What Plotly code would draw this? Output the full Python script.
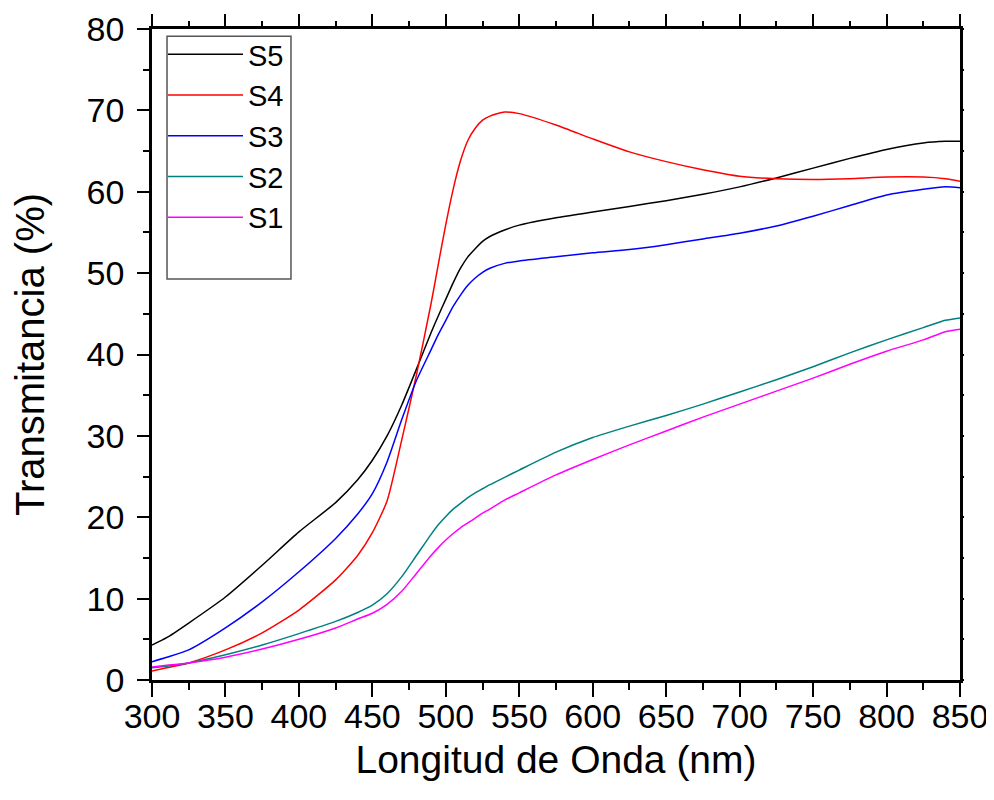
import plotly.graph_objects as go

# Wavelength (nm)
wavelength = [300, 310, 325, 350, 375, 400, 425, 440, 450, 460, 470, 480, 490, 495, 500, 505, 510,
              515, 520, 525, 530, 540, 550, 575, 600, 625, 650, 675, 700, 725, 750, 775, 800, 825,
              840, 850]

# Transmittance (%) per sample
s5 = [4.3, 5.2, 7.0, 10.2, 14.1, 18.2, 21.8, 24.6, 27.0, 30.0, 33.8, 38.2, 42.7, 44.8, 46.8, 48.8, 50.6,
      52.0, 53.0, 53.9, 54.5, 55.3, 55.9, 56.8, 57.5, 58.2, 58.9, 59.7, 60.6, 61.7, 62.9, 64.1, 65.2, 66.0,
      66.2, 66.2]
s4 = [1.1, 1.5, 2.1, 3.7, 5.8, 8.6, 12.3, 15.3, 18.1, 22.0, 29.5, 37.5, 46.3, 51.2, 56.0, 60.3, 63.8,
      66.3, 67.8, 68.8, 69.3, 69.8, 69.6, 68.2, 66.5, 64.9, 63.7, 62.7, 61.9, 61.6, 61.5, 61.6, 61.8, 61.8,
      61.6, 61.3]
s3 = [2.25, 2.8, 3.7, 6.4, 9.6, 13.3, 17.4, 20.4, 22.9, 26.8, 32.0, 36.8, 40.6, 42.5, 44.2, 45.9, 47.3,
      48.5, 49.4, 50.1, 50.6, 51.2, 51.5, 52.0, 52.5, 52.9, 53.5, 54.2, 54.9, 55.8, 57.0, 58.3, 59.6, 60.3,
      60.6, 60.5]
s2 = [1.5, 1.7, 2.1, 3.1, 4.3, 5.7, 7.2, 8.3, 9.2, 10.6, 12.7, 15.3, 17.9, 19.1, 20.1, 21.0, 21.7,
      22.4, 23.0, 23.5, 24.0, 24.9, 25.8, 28.0, 29.8, 31.2, 32.5, 33.9, 35.4, 36.9, 38.5, 40.2, 41.8, 43.3,
      44.2, 44.5]
s1 = [1.6, 1.8, 2.1, 2.8, 3.8, 5.0, 6.4, 7.5, 8.2, 9.3, 10.9, 13.1, 15.3, 16.3, 17.2, 18.0, 18.7,
      19.3, 19.9, 20.5, 21.0, 22.1, 23.0, 25.2, 27.1, 28.9, 30.6, 32.3, 33.9, 35.5, 37.1, 38.8, 40.4, 41.8,
      42.8, 43.1]

series_names = ["S5", "S4", "S3", "S2", "S1"]
series_values = [s5, s4, s3, s2, s1]
series_colors = ["#000000", "#ff0000", "#0000ff", "#008080", "#ff00ff"]

x_ticks = [300, 350, 400, 450, 500, 550, 600, 650, 700, 750, 800, 850]
y_ticks = [0, 10, 20, 30, 40, 50, 60, 70, 80]

FONT = "Liberation Sans, Arial, sans-serif"

fig = go.Figure()
for name, vals, col in zip(series_names, series_values, series_colors):
    fig.add_trace(go.Scatter(x=wavelength, y=vals, mode="lines", name=name,
                             line=dict(color=col, width=1.5, shape="spline", smoothing=0.6)))

# helper trace for top/right tick axes
fig.add_trace(go.Scatter(x=[300, 850], y=[0, 80], xaxis="x2", yaxis="y2", mode="markers",
                         marker=dict(opacity=0), showlegend=False, hoverinfo="skip"))

axis_common = dict(showgrid=False, zeroline=False, linecolor="black", linewidth=2.8,
                   tickcolor="black", tickwidth=2, automargin=False,
                   tickfont=dict(family=FONT, size=34, color="black"))

fig.update_layout(
    width=986, height=792,
    margin=dict(l=144, r=34, t=21, b=120),
    plot_bgcolor="white", paper_bgcolor="white",
    font=dict(family=FONT, color="black"),
    xaxis=dict(range=[300, 850], tickvals=x_ticks, ticks="outside", ticklen=14, mirror=True,
               ticklabelstandoff=-10,
               minor=dict(dtick=25, ticks="outside", ticklen=7, tickwidth=2, tickcolor="black"),
               title=dict(text="Longitud de Onda (nm)", font=dict(family=FONT, size=39), standoff=12),
               **axis_common),
    yaxis=dict(range=[0, 80], tickvals=y_ticks, ticks="outside", ticklen=12, mirror=True,
               ticklabelstandoff=6,
               minor=dict(dtick=5, ticks="outside", ticklen=6, tickwidth=2, tickcolor="black"),
               title=dict(text="Transmitancia (%)", font=dict(family=FONT, size=40), standoff=30),
               **axis_common),
    xaxis2=dict(range=[300, 850], overlaying="x", side="top", anchor="y2", showgrid=False,
                zeroline=False, showline=False, showticklabels=False, tickvals=x_ticks,
                automargin=False,
                ticks="outside", ticklen=14, tickwidth=2, tickcolor="black",
                minor=dict(dtick=25, ticks="outside", ticklen=7, tickwidth=2, tickcolor="black")),
    yaxis2=dict(range=[0, 80], overlaying="y", side="right", anchor="x2", showgrid=False,
                zeroline=False, showline=False, showticklabels=False, dtick=5,
                automargin=False,
                ticks="outside", ticklen=3, tickwidth=2, tickcolor="black"),
    legend=dict(x=0.0136, y=1.0, xanchor="left", yanchor="top", bgcolor="rgba(0,0,0,0)",
                borderwidth=0, font=dict(family=FONT, size=29, color="black"),
                itemwidth=75, tracegroupgap=0),
    shapes=[dict(type="rect", xref="paper", yref="paper", x0=0.0186, x1=0.172, y0=0.616, y1=0.989,
                 line=dict(color="#555555", width=1.5), fillcolor="rgba(0,0,0,0)")],
)

fig.write_html("out.html")
